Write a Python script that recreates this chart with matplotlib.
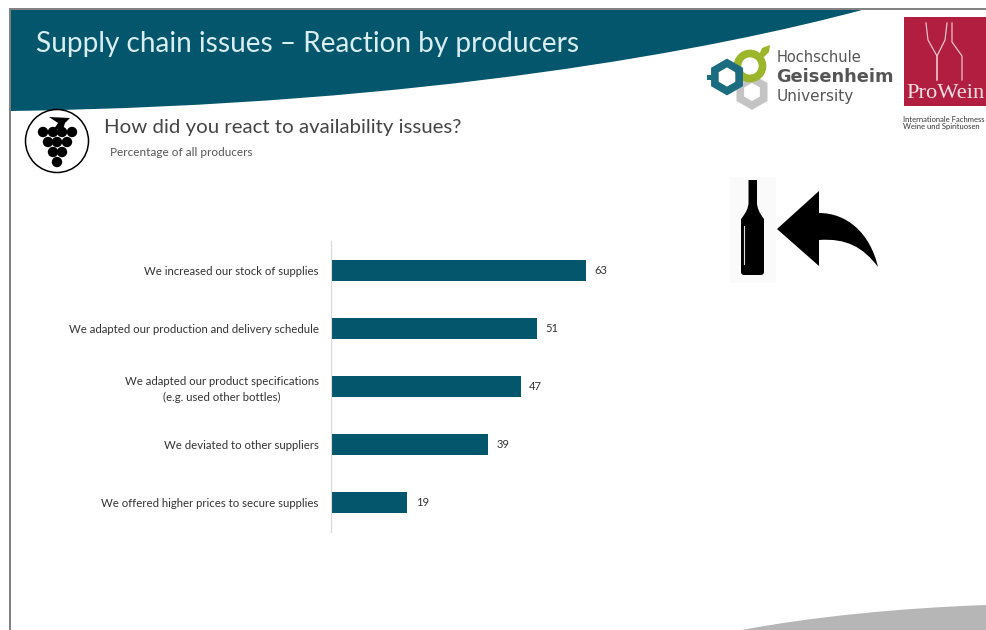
import matplotlib
matplotlib.use("Agg")
import matplotlib.pyplot as plt
from matplotlib.patches import Circle, PathPatch, Polygon, Rectangle, RegularPolygon
from matplotlib.path import Path

plt.rcParams['font.family'] = ['Lato', 'DejaVu Sans']

categories = [
    "We increased our stock of supplies",
    "We adapted our production and delivery schedule",
    "We adapted our product specifications\n(e.g. used other bottles)",
    "We deviated to other suppliers",
    "We offered higher prices to secure supplies",
]
values = [63, 51, 47, 39, 19]

TEAL = "#03566b"
W, H = 986, 630


def curve(verts, color, zorder=1):
    # verts: start point followed by triples of cubic bezier controls, closed at the end
    codes = [Path.MOVETO] + [Path.CURVE4] * (len(verts) - 1)
    path = Path(verts + [verts[0]], codes + [Path.LINETO])
    return bg.add_patch(PathPatch(path, facecolor=color, edgecolor="none", zorder=zorder))


fig = plt.figure(figsize=(W / 100, H / 100), dpi=100, facecolor="white")

# slide background in pixel coordinates
bg = fig.add_axes([0, 0, 1, 1])
bg.set_xlim(0, W)
bg.set_ylim(H, 0)
bg.axis("off")

# header band and footer swoosh
curve([(10, 10), (10, 10), (862, 10), (862, 10),
       (720, 48), (430, 105), (10, 111)], TEAL)
curve([(742, 630), (810, 617), (900, 608), (986, 605),
       (986, 610), (986, 625), (986, 630)], "#b6b6b6")

# slide border
bg.plot([10, 10], [630, 9], color="#7f7f7f", lw=1.4, zorder=3)
bg.plot([10, 986], [9, 9], color="#7f7f7f", lw=1.4, zorder=3)

bg.text(36, 44, "Supply chain issues – Reaction by producers", color="#d9eef0",
        fontsize=20.2, va="center", ha="left")
bg.text(104, 127, "How did you react to availability issues?", color="#444444",
        fontsize=14.7, va="center", ha="left")
bg.text(110, 152, "Percentage of all producers", color="#555555",
        fontsize=8.5, va="center", ha="left")

# grape badge
bg.add_patch(Circle((57, 141), 31.5, facecolor="white", edgecolor="black", lw=1.1, zorder=4))
grapes = [(43, 132), (53, 132), (62, 132), (72, 132), (48, 142), (57, 142), (67, 142),
          (53, 152), (62, 152), (57, 162)]
for gx, gy in grapes:
    bg.add_patch(Circle((gx, gy), 5.2, facecolor="black", edgecolor="none", zorder=5))
bg.add_patch(Polygon([(49, 117), (70, 118), (65, 123), (63, 129), (54, 129), (58, 123)],
                     facecolor="black", edgecolor="none", zorder=5))

# university logo
bg.add_patch(RegularPolygon((752, 92), 6, radius=13.5, orientation=0.5236 + 0.5236,
                            facecolor="none", edgecolor="#c4c4c4", lw=5.5, zorder=2))
bg.add_patch(Circle((750, 66), 12.5, facecolor="none", edgecolor="#9bb62a", lw=5.5, zorder=3))
bg.add_patch(RegularPolygon((727, 77), 6, radius=14, orientation=0.5236 + 0.5236,
                            facecolor="none", edgecolor="#1b6c80", lw=5.5, zorder=4))
bg.add_patch(Rectangle((707, 74.5), 7, 5, facecolor="#1b6c80", edgecolor="none", zorder=4))
bg.add_patch(Polygon([(759, 55), (762, 48), (770, 45), (769, 52), (764, 57)],
                     facecolor="#9bb62a", edgecolor="none", zorder=4))
bg.text(777, 58, "Hochschule", color="#555555", fontsize=10.5, family="DejaVu Sans",
        va="center", ha="left")
bg.text(776, 77, "Geisenheim", color="#555555", fontsize=12.8, family="DejaVu Sans",
        weight="bold", va="center", ha="left")
bg.text(777, 96, "University", color="#555555", fontsize=11, family="DejaVu Sans",
        va="center", ha="left")

# trade fair logo
bg.add_patch(Rectangle((904, 17), 82, 89, facecolor="#b11e3f", edgecolor="none", zorder=2))
for pts in ([(926, 23), (928, 40), (937, 56), (937, 80)],
            [(947, 23), (945, 40), (937, 56), (937, 80)],
            [(952, 23), (952, 42), (962, 56), (962, 80)]):
    bg.plot(*zip(*pts), color="#e8c4cc", lw=0.9, zorder=3)
bg.text(906, 94, "ProWein", color="#f4dfe3", fontsize=16.2, family="Liberation Serif",
        va="center", ha="left", zorder=3)
bg.text(903, 119, "Internationale Fachmess", color="#333333", fontsize=5.5, va="center", ha="left")
bg.text(903, 126, "Weine und Spirituosen", color="#333333", fontsize=5.5, va="center", ha="left")

# bottle with return arrow
bg.add_patch(Rectangle((730, 177), 46, 106, facecolor="#fafafa", edgecolor="none", zorder=1))
bottle = Path(
    [(748.5, 180), (757, 180), (757, 203), (757, 210), (764, 219), (764, 272), (764, 275), (761, 275),
     (744, 275), (741, 275), (741, 272), (741, 219), (748.5, 210), (748.5, 203), (748.5, 180)],
    [Path.MOVETO, Path.LINETO, Path.LINETO, Path.CURVE3, Path.CURVE3, Path.LINETO, Path.CURVE3, Path.CURVE3,
     Path.LINETO, Path.CURVE3, Path.CURVE3, Path.LINETO, Path.CURVE3, Path.CURVE3, Path.LINETO])
bg.add_patch(PathPatch(bottle, facecolor="black", edgecolor="none", zorder=2))
bg.plot([744, 744], [226, 264], color="#dddddd", lw=0.8, zorder=3)
arrow = Path(
    [(777, 229), (819, 191), (819, 213), (847, 213), (870, 233), (878, 267),
     (863, 247), (846, 238), (819, 240), (819, 266), (777, 229)],
    [Path.MOVETO, Path.LINETO, Path.LINETO, Path.CURVE4, Path.CURVE4, Path.CURVE4,
     Path.CURVE4, Path.CURVE4, Path.CURVE4, Path.LINETO, Path.LINETO])
bg.add_patch(PathPatch(arrow, facecolor="black", edgecolor="none", zorder=2))

# bar chart
ax = fig.add_axes([330.5 / W, 1 - 532 / H, 405 / W, 291 / H], facecolor="none")
positions = list(range(len(values)))
ax.barh(positions, values, height=0.36, color=TEAL)
ax.set_xlim(0, 100)
ax.set_ylim(len(values) - 0.5, -0.5)
ax.set_yticks(positions, categories, fontsize=8.2, color="#333333", multialignment="center",
              linespacing=1.5)
ax.tick_params(axis="y", length=0, pad=8.5)
ax.xaxis.set_visible(False)
for side in ["top", "right", "bottom"]:
    ax.spines[side].set_visible(False)
ax.spines["left"].set_color("#d9d9d9")
ax.spines["left"].set_linewidth(0.8)
for pos, val in zip(positions, values):
    ax.annotate(str(val), (val, pos), xytext=(6, 0), textcoords="offset points",
                fontsize=8, color="#333333", va="center", ha="left")

fig.savefig("out.png", dpi=100)
